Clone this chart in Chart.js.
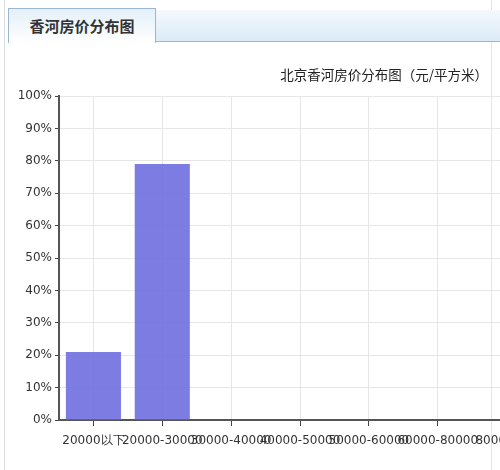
<!DOCTYPE html>
<html>
<head>
<meta charset="utf-8">
<script src="https://cdn.jsdelivr.net/npm/chart.js@4"></script>
<style>
  html, body { margin: 0; padding: 0; width: 500px; height: 470px; overflow: hidden; background: #fff; }
  #panel { position: absolute; left: 4px; top: 0; width: 486px; height: 470px; border-left: 1px solid #dcdcdc; border-right: 1px solid #e6e6e6; }
  #bar { position: absolute; left: 155px; top: 10px; width: 345px; height: 31px;
         background: linear-gradient(#f4f9fd, #dbeaf6); border-bottom: 1px solid #9bb7cf; }
  #tab { position: absolute; left: 8px; top: 8px; width: 146px; height: 34px;
         background: linear-gradient(#e4eff8, #ffffff); border: 1px solid #9bb7cf; border-bottom: none;
         font: bold 15px "Noto Sans CJK SC", sans-serif; color: #333; text-align: center; line-height: 34px; }
  #title { position: absolute; right: 12px; top: 64px; font: 13.5px "Noto Sans CJK SC", sans-serif; color: #222; }
  #wrap { position: absolute; left: 0; top: 0; }
</style>
</head>
<body>
<div id="panel"></div>
<div id="bar"></div>
<div id="tab">香河房价分布图</div>
<div id="wrap"><canvas id="chart" width="560" height="470"></canvas></div>
<div id="title">北京香河房价分布图（元/平方米）</div>
<script>
// price bands (元/平方米) and share of listings in each band
const categories = ['20000以下', '20000-30000', '30000-40000', '40000-50000', '50000-60000', '60000-80000', '80000以上']
const shares = [21, 79, 0, 0, 0, 0, 0]
const yTicks = [0, 10, 20, 30, 40, 50, 60, 70, 80, 90, 100]

const data = {
    labels: categories,
    datasets: [{
        data: shares,
        backgroundColor: 'rgba(110, 110, 224, 0.9)',
        borderWidth: 0,
        barPercentage: 0.8,
        categoryPercentage: 1
    }]
}

const config = {
    type: 'bar',
    data: data,
    options: {
        responsive: false,
        animation: false,
        devicePixelRatio: 1,
        layout: { padding: { top: 96, right: 19, left: 0, bottom: 0 } },
        plugins: { legend: { display: false }, tooltip: { enabled: false } },
        scales: {
            x: {
                afterFit: (s) => { s.height = 50 },
                grid: { offset: false, color: '#e6e6e6', tickColor: '#444', tickLength: 6, drawOnChartArea: true },
                border: { color: '#555', width: 2 },
                ticks: {
                    autoSkip: false, maxRotation: 0, minRotation: 0, padding: 8,
                    color: '#333', font: { family: 'DejaVu Sans', size: 12 }
                }
            },
            y: {
                min: 0, max: 100,
                afterFit: (s) => { s.width = 59 },
                afterBuildTicks: (s) => { s.ticks = yTicks.map(v => ({ value: v })) },
                grid: { color: '#e6e6e6', tickColor: '#444', tickLength: 4 },
                border: { color: '#555', width: 2 },
                ticks: {
                    padding: 3,
                    color: '#333', font: { family: 'DejaVu Sans', size: 12 },
                    callback: (v) => v + '%'
                }
            }
        }
    }
}

const chart = new Chart(document.getElementById('chart').getContext('2d'), config)
</script>
</body>
</html>
